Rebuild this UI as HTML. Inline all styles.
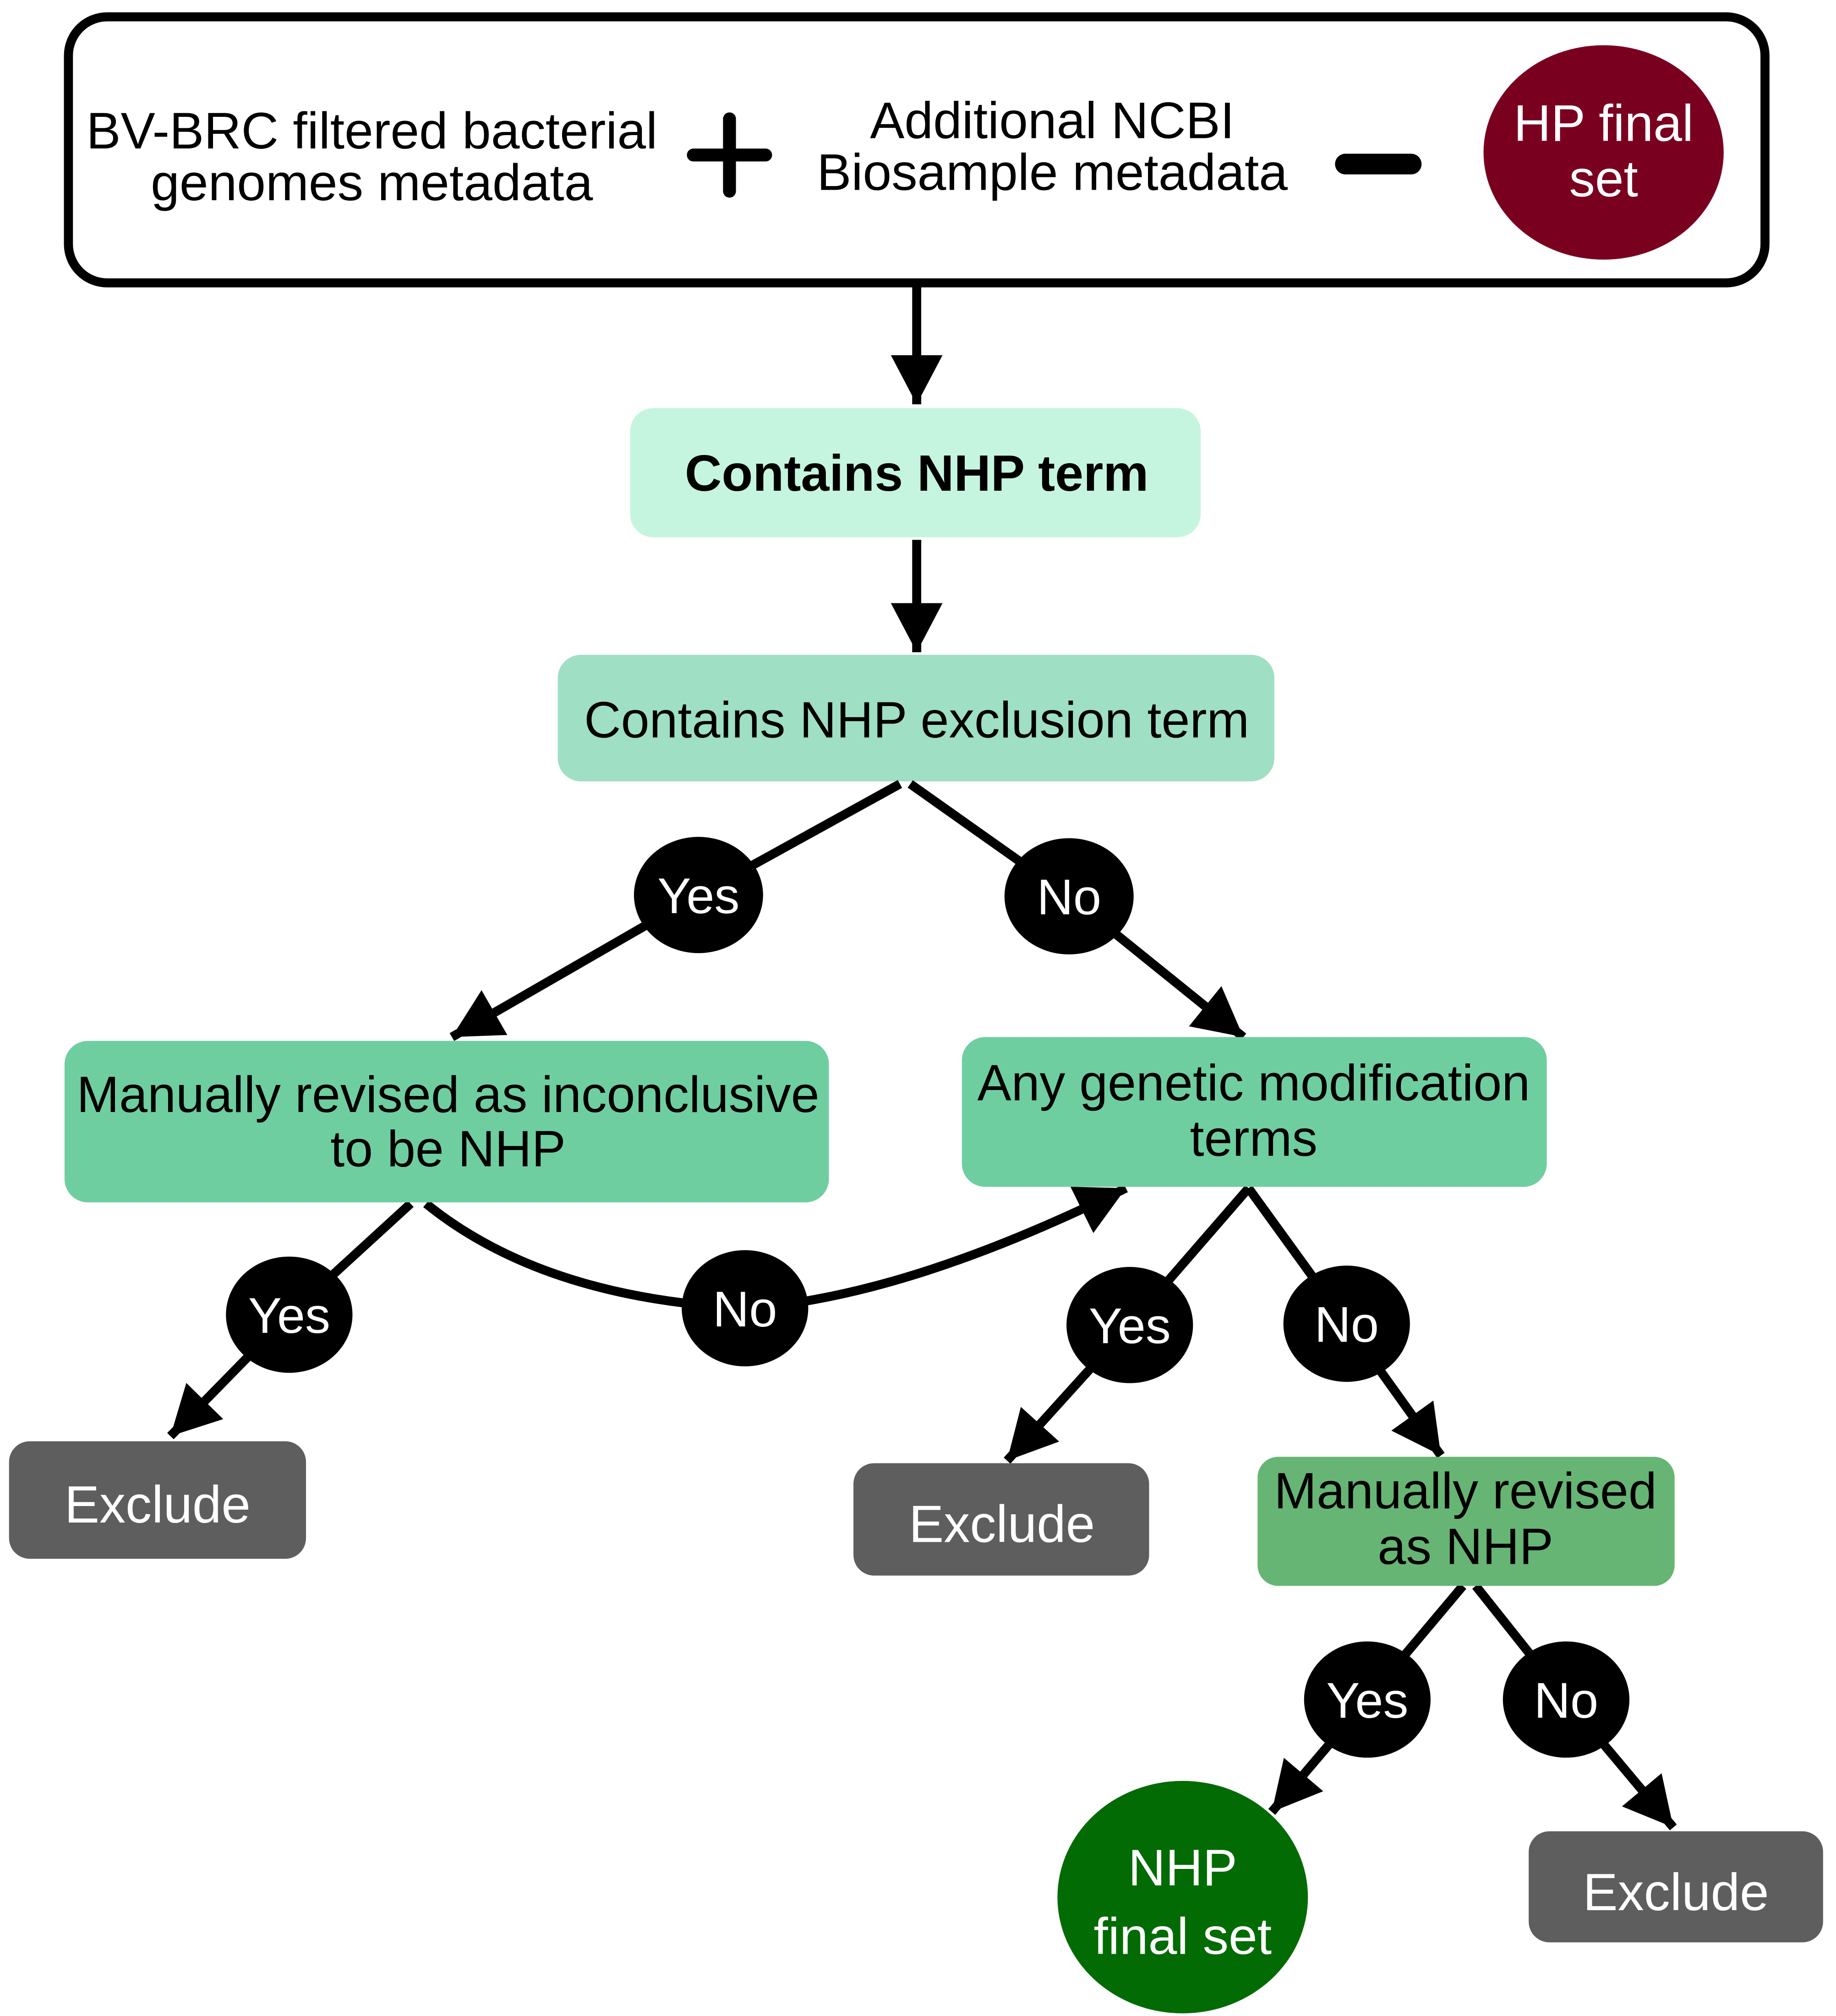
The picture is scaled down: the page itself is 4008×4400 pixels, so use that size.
<!DOCTYPE html>
<html><head><meta charset="utf-8"><style>
html,body{margin:0;padding:0;background:#fff;}
svg{display:block;}
text{font-family:"Liberation Sans",sans-serif;}
</style></head><body>
<svg width="4008" height="4400" viewBox="0 0 1422 1561" xmlns="http://www.w3.org/2000/svg">
<defs>
<marker id="ah" markerUnits="userSpaceOnUse" markerWidth="50" markerHeight="50" viewBox="0 -25 40 50" refX="38" refY="0" orient="auto">
<path d="M0,-20 L38,0 L0,20 z" fill="#000"/>
</marker>
</defs>
<rect x="0" y="0" width="1422" height="1561" fill="#fff"/>
<rect x="53" y="13" width="1314" height="206" rx="30" fill="#fff" stroke="#000" stroke-width="7"/>
<text x="288" y="115" font-size="40" text-anchor="middle">BV-BRC filtered bacterial</text>
<text x="288" y="155" font-size="40" text-anchor="middle">genomes metadata</text>
<line x1="537" y1="120" x2="593" y2="120" stroke="#000" stroke-width="10" stroke-linecap="round"/>
<line x1="565" y1="92" x2="565" y2="148" stroke="#000" stroke-width="10" stroke-linecap="round"/>
<text x="815" y="107" font-size="40" text-anchor="middle">Additional NCBI</text>
<text x="815" y="147" font-size="40" text-anchor="middle">Biosample metadata</text>
<line x1="1042" y1="127" x2="1093" y2="127" stroke="#000" stroke-width="16" stroke-linecap="round"/>
<ellipse cx="1242" cy="118" rx="93" ry="83" fill="#7a0020"/>
<text x="1242" y="109" font-size="40" fill="#fff" text-anchor="middle">HP final</text>
<text x="1242" y="152" font-size="40" fill="#fff" text-anchor="middle">set</text>
<line x1="710" y1="222" x2="710" y2="313" stroke="#000" stroke-width="7" marker-end="url(#ah)"/>
<rect x="488" y="316" width="442" height="100" rx="18" fill="#c6f5df"/>
<text x="710" y="380" font-size="39.5" font-weight="bold" text-anchor="middle">Contains NHP term</text>
<line x1="710" y1="418" x2="710" y2="505" stroke="#000" stroke-width="7" marker-end="url(#ah)"/>
<rect x="432" y="507" width="555" height="98" rx="18" fill="#9fdfc4"/>
<text x="710" y="571" font-size="39.5" text-anchor="middle">Contains NHP exclusion term</text>
<g stroke="#000" stroke-width="7" fill="none">
<polyline points="697,607 541,693 350,803" marker-end="url(#ah)"/>
<polyline points="705,607 828,694 963,803" marker-end="url(#ah)"/>
<polyline points="318,932 224,1018 132,1112" marker-end="url(#ah)"/>
<path d="M330,932 Q420,1005 577,1013 Q700,1005 872,920" marker-end="url(#ah)"/>
<polyline points="967,920 875,1026 780,1131" marker-end="url(#ah)"/>
<polyline points="967,920 1043,1025 1116,1127" marker-end="url(#ah)"/>
<polyline points="1133,1228 1059,1316 985,1403" marker-end="url(#ah)"/>
<polyline points="1143,1228 1213,1316 1296,1415" marker-end="url(#ah)"/>
</g>
<rect x="50" y="806" width="592" height="125" rx="18" fill="#6fcea0"/>
<text x="347" y="861" font-size="39.5" text-anchor="middle">Manually revised as inconclusive</text>
<text x="347" y="903" font-size="39.5" text-anchor="middle">to be NHP</text>
<rect x="745" y="803" width="453" height="116" rx="18" fill="#6fcea0"/>
<text x="971" y="852" font-size="39.5" text-anchor="middle">Any genetic modification</text>
<text x="971" y="895" font-size="39.5" text-anchor="middle">terms</text>
<rect x="7" y="1116" width="230" height="91" rx="16" fill="#5e5e5e"/>
<text x="122" y="1179" font-size="40.5" fill="#fff" text-anchor="middle">Exclude</text>
<rect x="661" y="1133" width="229" height="87" rx="16" fill="#5e5e5e"/>
<text x="776" y="1194" font-size="40.5" fill="#fff" text-anchor="middle">Exclude</text>
<rect x="974" y="1128" width="323" height="100" rx="16" fill="#67b574"/>
<text x="1135" y="1168" font-size="39.5" text-anchor="middle">Manually revised</text>
<text x="1135" y="1211" font-size="39.5" text-anchor="middle">as NHP</text>
<rect x="1184" y="1418" width="228" height="86" rx="16" fill="#5e5e5e"/>
<text x="1298" y="1479" font-size="40.5" fill="#fff" text-anchor="middle">Exclude</text>
<ellipse cx="916" cy="1469" rx="97" ry="90" fill="#036b03"/>
<text x="916" y="1460" font-size="40" fill="#fff" text-anchor="middle">NHP</text>
<text x="916" y="1513" font-size="40" fill="#fff" text-anchor="middle">final set</text>
<g fill="#000">
<ellipse cx="541" cy="693" rx="50" ry="45"/>
<ellipse cx="828" cy="694" rx="50" ry="45"/>
<ellipse cx="224" cy="1018" rx="49" ry="45"/>
<ellipse cx="577" cy="1013" rx="49" ry="45"/>
<ellipse cx="875" cy="1026" rx="49" ry="45"/>
<ellipse cx="1043" cy="1025" rx="49" ry="45"/>
<ellipse cx="1059" cy="1316" rx="49" ry="45"/>
<ellipse cx="1213" cy="1316" rx="49" ry="45"/>
</g>
<g fill="#fff" font-size="39" text-anchor="middle">
<text x="541" y="707">Yes</text>
<text x="828" y="708">No</text>
<text x="224" y="1032">Yes</text>
<text x="577" y="1027">No</text>
<text x="875" y="1040">Yes</text>
<text x="1043" y="1039">No</text>
<text x="1059" y="1330">Yes</text>
<text x="1213" y="1330">No</text>
</g>
</svg>
</body></html>
